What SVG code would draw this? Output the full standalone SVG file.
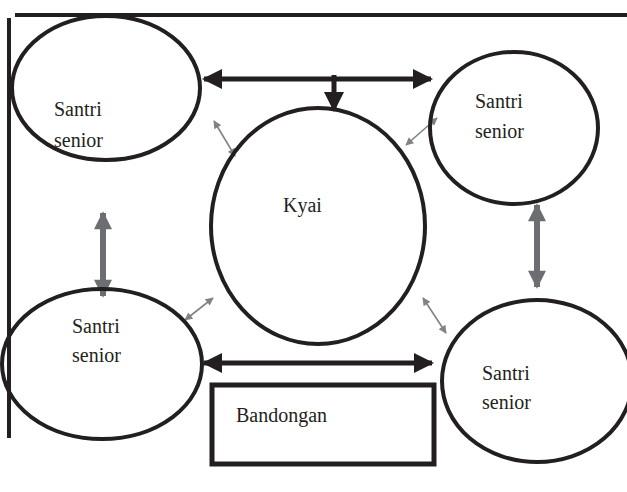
<svg xmlns="http://www.w3.org/2000/svg" width="627" height="492" viewBox="0 0 627 492">
<style>
.node{fill:none;stroke:#231f20;stroke-width:4}
.t{font-family:"Liberation Serif",serif;font-size:20px;fill:#231f20}
.bk{stroke:#231f20;stroke-width:5;fill:none}
.gy{stroke:#6d6e71;stroke-width:6;fill:none}
.th{stroke:#808285;stroke-width:1.6;fill:none}
</style>
<defs>
<marker id="ab" viewBox="0 0 10 10" refX="9" refY="5" markerWidth="4.4" markerHeight="4" orient="auto-start-reverse" markerUnits="strokeWidth"><path d="M0,0L10,5L0,10z" fill="#231f20"/></marker>
<marker id="ag" viewBox="0 0 10 10" refX="9" refY="5" markerWidth="3.8" markerHeight="3" orient="auto-start-reverse" markerUnits="strokeWidth"><path d="M0,0L10,5L0,10z" fill="#6d6e71"/></marker>
<marker id="at" viewBox="0 0 10 10" refX="9" refY="5" markerWidth="6" markerHeight="5" orient="auto-start-reverse" markerUnits="strokeWidth"><path d="M0,0L10,5L0,10z" fill="#808285"/></marker>
</defs>
<g id="frame">
<line x1="15" y1="15" x2="627" y2="15" stroke="#231f20" stroke-width="4"/>
<line x1="9" y1="18" x2="9" y2="438" stroke="#231f20" stroke-width="4"/>
</g>
<g id="connectors">
<line class="bk" x1="204" y1="79" x2="431" y2="79" marker-start="url(#ab)" marker-end="url(#ab)"/>
<line class="bk" x1="334" y1="75" x2="334" y2="110" marker-end="url(#ab)"/>
<line class="bk" x1="204" y1="363" x2="432" y2="363" marker-start="url(#ab)" marker-end="url(#ab)"/>
<line class="gy" x1="103" y1="213" x2="103" y2="296" marker-start="url(#ag)" marker-end="url(#ag)"/>
<line class="gy" x1="537" y1="205" x2="537" y2="287" marker-start="url(#ag)" marker-end="url(#ag)"/>
<line class="th" x1="214" y1="121" x2="235" y2="156" marker-start="url(#at)" marker-end="url(#at)"/>
<line class="th" x1="437" y1="118" x2="406" y2="145" marker-start="url(#at)" marker-end="url(#at)"/>
<line class="th" x1="213" y1="298" x2="185" y2="320" marker-start="url(#at)" marker-end="url(#at)"/>
<line class="th" x1="423" y1="298" x2="446" y2="333" marker-start="url(#at)" marker-end="url(#at)"/>
</g>
<g id="kyai">
<ellipse class="node" cx="318" cy="226" rx="107" ry="118"/>
<text class="t" x="283" y="212">Kyai</text>
</g>
<g id="santri-tl">
<ellipse class="node" cx="106" cy="88" rx="94" ry="72"/>
<text class="t" x="54" y="116">Santri</text>
<text class="t" x="54" y="147">senior</text>
</g>
<g id="santri-tr">
<ellipse class="node" cx="514" cy="128" rx="84" ry="76"/>
<text class="t" x="475" y="108">Santri</text>
<text class="t" x="475" y="138">senior</text>
</g>
<g id="santri-bl">
<ellipse class="node" cx="102" cy="364" rx="100" ry="75"/>
<text class="t" x="72" y="333">Santri</text>
<text class="t" x="72" y="362">senior</text>
</g>
<g id="santri-br">
<ellipse class="node" cx="537" cy="381" rx="95" ry="81"/>
<text class="t" x="482" y="380">Santri</text>
<text class="t" x="482" y="409">senior</text>
</g>
<g id="bandongan">
<rect x="212" y="385" width="222" height="79" fill="none" stroke="#231f20" stroke-width="5"/>
<text class="t" x="236" y="422">Bandongan</text>
</g>
</svg>
